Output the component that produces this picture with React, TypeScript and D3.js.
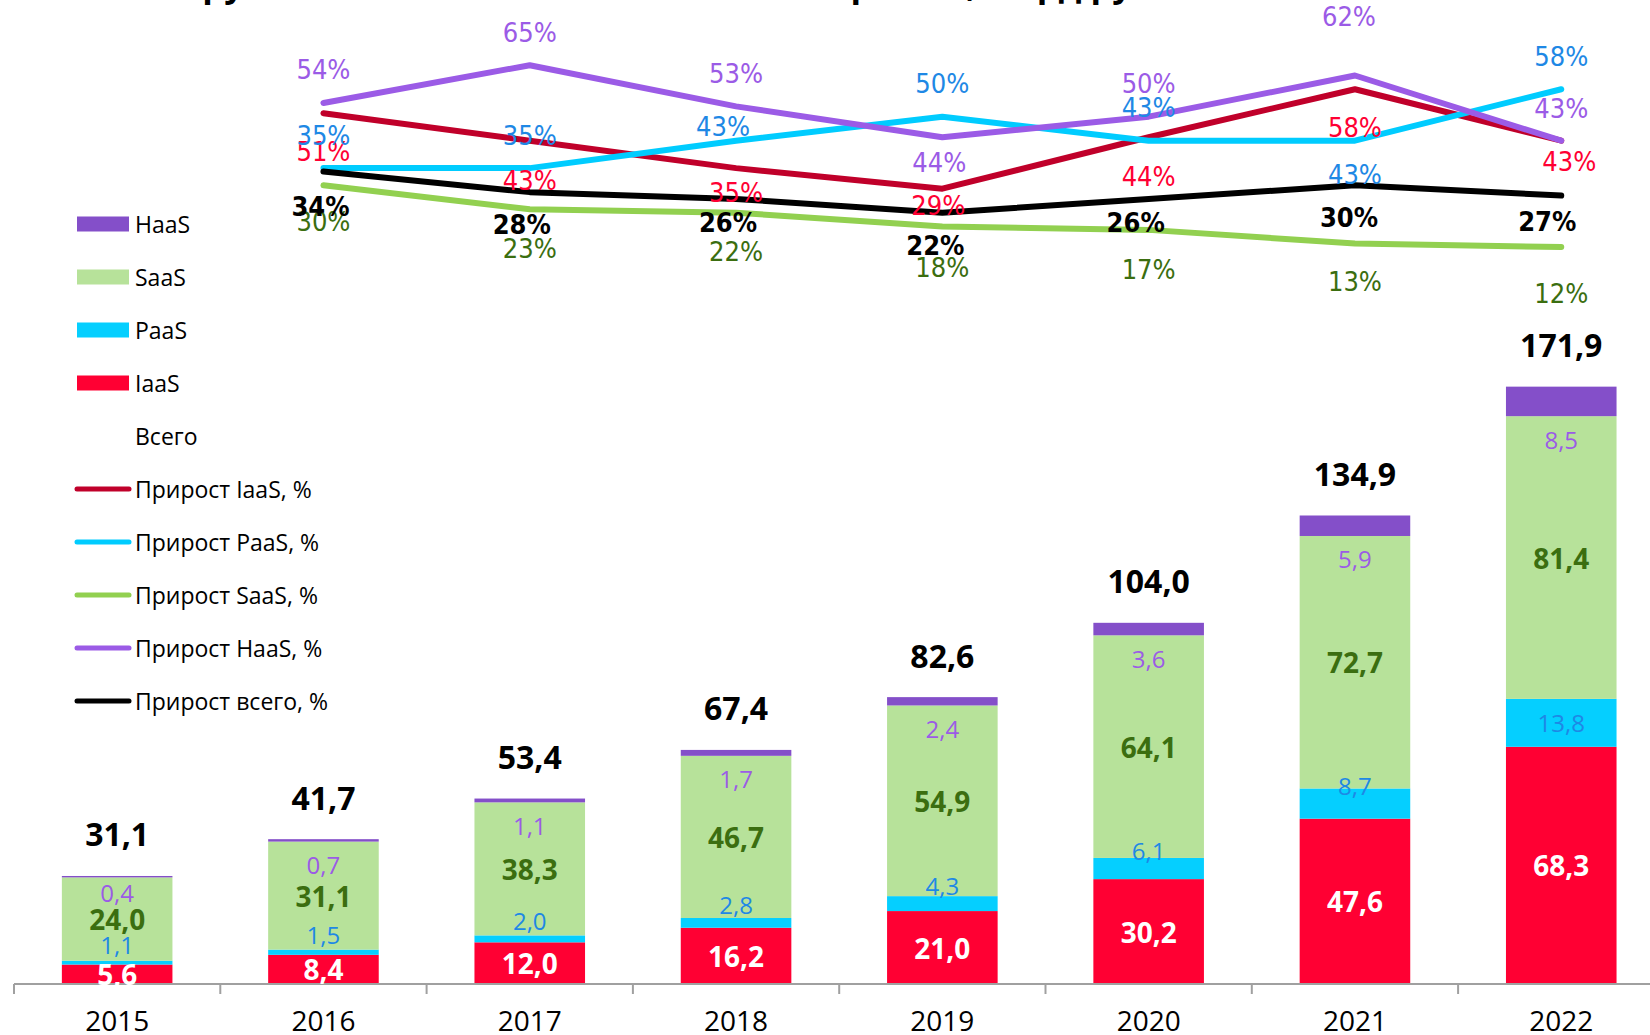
import React from "react";
import * as d3 from "d3";

// ---------- data ----------
const years = ["2015", "2016", "2017", "2018", "2019", "2020", "2021", "2022"];
const iaas = [5.6, 8.4, 12.0, 16.2, 21.0, 30.2, 47.6, 68.3];
const paas = [1.1, 1.5, 2.0, 2.8, 4.3, 6.1, 8.7, 13.8];
const saas = [24.0, 31.1, 38.3, 46.7, 54.9, 64.1, 72.7, 81.4];
const haas = [0.4, 0.7, 1.1, 1.7, 2.4, 3.6, 5.9, 8.5];
const totals = [31.1, 41.7, 53.4, 67.4, 82.6, 104.0, 134.9, 171.9];

const growthYears = ["2016", "2017", "2018", "2019", "2020", "2021", "2022"];
const growthIaaS = [0.51, 0.43, 0.35, 0.29, 0.44, 0.58, 0.43];
const growthPaaS = [0.35, 0.35, 0.43, 0.5, 0.43, 0.43, 0.58];
const growthSaaS = [0.3, 0.23, 0.22, 0.18, 0.17, 0.13, 0.12];
const growthHaaS = [0.54, 0.65, 0.53, 0.44, 0.5, 0.62, 0.43];
const growthTotal = [0.34, 0.28, 0.26, 0.22, 0.26, 0.3, 0.27];

const titleText = "Группы облачных сегментов: объём рынка, млрд руб.";

// ---------- layout of the percentage labels (offsets from their point, px) ----------
const dyIaaS = [38, 40, 24, 17, 39, 38, 21];
const dyPaaS = [-33, -33, -14, -33, -33, 34, -33];
const dySaaS = [36, 39, 39, 41, 40, 38, 46];
const dyHaaS = [-33, -33, -33, 25, -33, -59, -32];
const dyTotal = [35, 32, 23, 33, 23, 32, 26];
const dxIaaS = [0, 0, 0, -4, 0, 0, 8];
const dxPaaS = [0, 0, -13, 0, 0, 0, 0];
const dxSaaS = [0, 0, 0, 0, 0, 0, 0];
const dxHaaS = [0, 0, 0, -3, 0, -6, 0];
const dxTotal = [-3, -8, -8, -7, -13, -6, -14];

// ---------- styling ----------
const W = 1650;
const H = 1035;
const FONT = "'Open Sans', 'Noto Sans', sans-serif";
const NARROW = "'Liberation Sans Narrow', 'DejaVu Sans Condensed', sans-serif";

const C = {
  iaas: "#ff0033",
  paas: "#05cfff",
  saas: "#b7e29a",
  haas: "#844fc9",
  lineIaaS: "#c0002a",
  linePaaS: "#00ccff",
  lineSaaS: "#92d050",
  lineHaaS: "#9b5be6",
  lineTotal: "#000000",
  lblIaaS: "#ff0033",
  lblPaaS: "#1e88e5",
  lblSaaS: "#3b6e10",
  lblHaaS: "#9b5be6",
};

const fmt = (v: number) => v.toFixed(1).replace(".", ",");
const pct = (v: number) => `${Math.round(v * 100)}%`;

export default function App() {
  const baseY = 984;
  const x = d3
    .scaleBand<string>()
    .domain(years)
    .range([14, 14 + 8 * 206.3])
    .paddingInner(0.464)
    .paddingOuter(0.232);
  const y = d3.scaleLinear().domain([0, 180]).range([baseY, baseY - 180 * 3.473]);
  const yp = d3.scaleLinear().domain([0, 0.65]).range([288.2, 65.2]);

  const cx = (yr: string) => (x(yr) as number) + x.bandwidth() / 2;
  const bw = x.bandwidth();

  const rows = years.map((yr, i) => ({
    yr,
    IaaS: iaas[i],
    PaaS: paas[i],
    SaaS: saas[i],
    HaaS: haas[i],
  }));
  const keys = ["IaaS", "PaaS", "SaaS", "HaaS"];
  const fills: Record<string, string> = { IaaS: C.iaas, PaaS: C.paas, SaaS: C.saas, HaaS: C.haas };
  const stack = d3.stack<any>().keys(keys)(rows);

  const line = d3
    .line<number>()
    .x((_, i) => cx(growthYears[i]))
    .y((d) => yp(d));

  const lineSeries = [
    { key: "IaaS", vals: growthIaaS, color: C.lineIaaS, lbl: C.lblIaaS, dy: dyIaaS, dx: dxIaaS, bold: false },
    { key: "PaaS", vals: growthPaaS, color: C.linePaaS, lbl: C.lblPaaS, dy: dyPaaS, dx: dxPaaS, bold: false },
    { key: "SaaS", vals: growthSaaS, color: C.lineSaaS, lbl: C.lblSaaS, dy: dySaaS, dx: dxSaaS, bold: false },
    { key: "HaaS", vals: growthHaaS, color: C.lineHaaS, lbl: C.lblHaaS, dy: dyHaaS, dx: dxHaaS, bold: false },
    { key: "Total", vals: growthTotal, color: C.lineTotal, lbl: "#000", dy: dyTotal, dx: dxTotal, bold: true },
  ];

  const legendItems = [
    { label: "HaaS", type: "rect", color: C.haas },
    { label: "SaaS", type: "rect", color: C.saas },
    { label: "PaaS", type: "rect", color: C.paas },
    { label: "IaaS", type: "rect", color: C.iaas },
    { label: "Всего", type: "none", color: "none" },
    { label: "Прирост IaaS, %", type: "line", color: C.lineIaaS },
    { label: "Прирост PaaS, %", type: "line", color: C.linePaaS },
    { label: "Прирост SaaS, %", type: "line", color: C.lineSaaS },
    { label: "Прирост HaaS, %", type: "line", color: C.lineHaaS },
    { label: "Прирост всего, %", type: "line", color: C.lineTotal },
  ];

  return (
    <svg width={W} height={H} style={{ display: "block", position: "absolute", left: 0, top: 0 }} fontFamily={FONT}>
      <rect width={W} height={H} fill="#fff" />
      {/* title (mostly cut off at top) */}
      <text x={183} y={-3} fontSize={34.5} fontWeight={700} fill="#000">
        {titleText}
      </text>

      {/* bars */}
      {stack.map((s) => (
        <g key={s.key}>
          {s.map((d, i) => (
            <rect
              key={i}
              x={x(years[i])}
              width={bw}
              y={y(d[1])}
              height={y(d[0]) - y(d[1])}
              fill={fills[s.key]}
            />
          ))}
        </g>
      ))}

      {/* axis */}
      <line x1={14} x2={W} y1={baseY} y2={baseY} stroke="#a0a0a0" strokeWidth={2} />
      {years.map((yr) => (
        <line key={yr} x1={x(yr)! - (x.step() - bw) / 2} x2={x(yr)! - (x.step() - bw) / 2} y1={baseY} y2={baseY + 10} stroke="#a0a0a0" strokeWidth={2} />
      ))}
      {years.map((yr) => (
        <text key={yr} x={cx(yr)} y={1020} textAnchor="middle" dominantBaseline="central" fontSize={28} fill="#000">
          {yr}
        </text>
      ))}

      {/* segment labels */}
      {years.map((yr, i) => {
        const s0 = stack[0][i], s1 = stack[1][i], s2 = stack[2][i], s3 = stack[3][i];
        const iaC = (y(s0[0]) + y(s0[1])) / 2;
        const paH = y(s1[0]) - y(s1[1]);
        const paC = (y(s1[0]) + y(s1[1])) / 2;
        const paY = paH > 40 ? paC : paC - 18;
        const saC = (y(s2[0]) + y(s2[1])) / 2;
        const haY = y(s3[0]) + (i === 0 ? 15 : 23);
        const cxx = cx(yr);
        return (
          <g key={yr} textAnchor="middle" dominantBaseline="central">
            <text x={cxx} y={iaC} fontSize={28} fontWeight={700} fill="#fff">{fmt(iaas[i])}</text>
            <text x={cxx} y={paY} fontSize={24} fill={C.lblPaaS}>{fmt(paas[i])}</text>
            <text x={cxx} y={saC} fontSize={28} fontWeight={700} fill={C.lblSaaS}>{fmt(saas[i])}</text>
            <text x={cxx} y={haY} fontSize={24} fill={C.lblHaaS}>{fmt(haas[i])}</text>
            <text x={cxx} y={y(totals[i]) - 42} fontSize={32} fontWeight={700} fill="#000">{fmt(totals[i])}</text>
          </g>
        );
      })}

      {/* growth lines */}
      {lineSeries.map((s) => (
        <path key={s.key} d={line(s.vals) || ""} fill="none" stroke={s.color} strokeWidth={6} strokeLinejoin="round" strokeLinecap="round" />
      ))}
      {lineSeries.map((s) => (
        <g key={s.key + "l"} fontFamily={NARROW} textAnchor="middle" dominantBaseline="central">
          {s.vals.map((v, i) => (
            <text key={i} x={cx(growthYears[i]) + s.dx[i]} y={yp(v) + s.dy[i]} fontSize={27} fontWeight={s.bold ? 700 : 400} fill={s.lbl}>
              {pct(v)}
            </text>
          ))}
        </g>
      ))}

      {/* legend */}
      {legendItems.map((it, i) => {
        const yy = 224 + i * 53;
        return (
          <g key={it.label}>
            {it.type === "rect" && <rect x={77} y={yy - 7.5} width={52} height={15} fill={it.color} />}
            {it.type === "line" && (
              <line x1={77} x2={129} y1={yy} y2={yy} stroke={it.color} strokeWidth={5} strokeLinecap="round" />
            )}
            <text x={135} y={yy} dominantBaseline="central" fontSize={23} fill="#000">
              {it.label}
            </text>
          </g>
        );
      })}
    </svg>
  );
}
